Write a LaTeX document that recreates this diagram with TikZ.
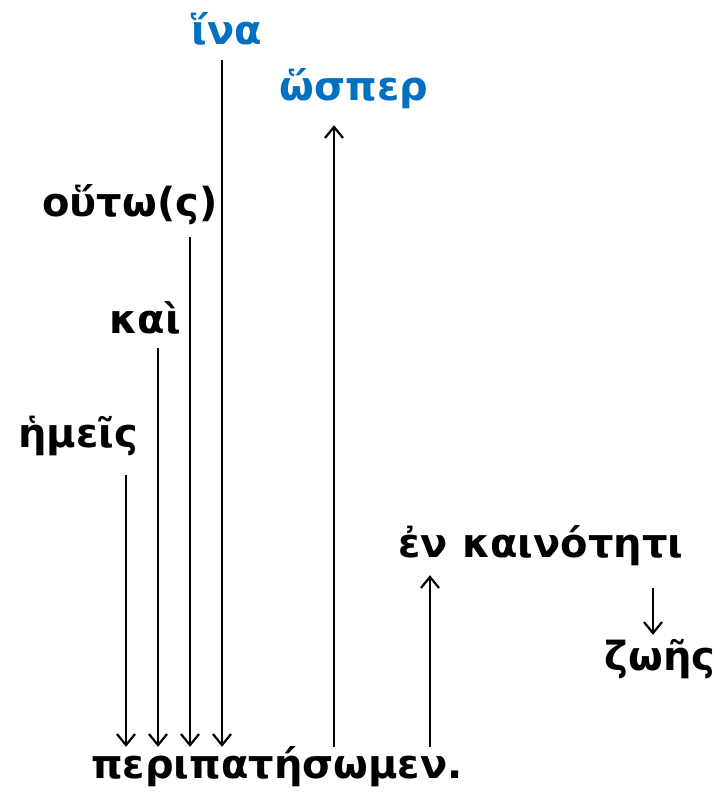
\documentclass[tikz,border=0pt]{standalone}
\usepackage{fontspec}
\setmainfont{DejaVu Sans}
\usetikzlibrary{arrows.meta}
\definecolor{wordblue}{HTML}{0070C0}
\tikzset{
  word/.style={anchor=base, inner sep=0pt, text height=30pt, text depth=10pt,
    font=\fontsize{40}{46}\selectfont\bfseries},
  conj/.style={word, text=wordblue},
  dep/.style={line width=2.2pt, -{Straight Barb[length=11pt,width=18pt,line width=2.2pt]}}
}
\begin{document}
\begin{tikzpicture}[x=1pt,y=-1pt]
\useasboundingbox (0,0) rectangle (720,808);

% words
\node[conj] (hina) at (227,45) {ἵνα};
\node[conj] (hosper) at (354,100) {ὥσπερ};
\node[word] (houto) at (130,216) {οὕτω(ς)};
\node[word] (kai) at (145,333) {καὶ};
\node[word] (hemeis) at (78,447) {ἡμεῖς};
\node[word] (en) at (541,557) {ἐν καινότητι};
\node[word] (zoes) at (660,670) {ζωῆς};
\node[word] (peri) at (277,778) {περιπατήσωμεν.};

% columns of the links
\coordinate (xhemeis) at (126,0);
\coordinate (xkai) at (158,0);
\coordinate (xhouto) at (190,0);
\coordinate (xhina) at (222,0);
\coordinate (xhosper) at (334,0);
\coordinate (xen) at (430,0);
\coordinate (xzoes) at (653,0);

% links
\draw[dep] ([yshift=-18pt]hemeis.south -| xhemeis) -- ([yshift=1pt]peri.north -| xhemeis);
\draw[dep] ([yshift=-5pt]kai.south -| xkai) -- ([yshift=1pt]peri.north -| xkai);
\draw[dep] ([yshift=-11pt]houto.south -| xhouto) -- ([yshift=1pt]peri.north -| xhouto);
\draw[dep] ([yshift=-5pt]hina.south -| xhina) -- ([yshift=1pt]peri.north -| xhina);
\draw[dep] ([yshift=1pt]peri.north -| xhosper) -- ([yshift=-15pt]hosper.south -| xhosper);
\draw[dep] ([yshift=1pt]peri.north -| xen) -- ([yshift=-8pt]en.south -| xen);
\draw[dep] ([yshift=-21pt]en.south -| xzoes) -- ([yshift=5pt]zoes.north -| xzoes);
\end{tikzpicture}
\end{document}
